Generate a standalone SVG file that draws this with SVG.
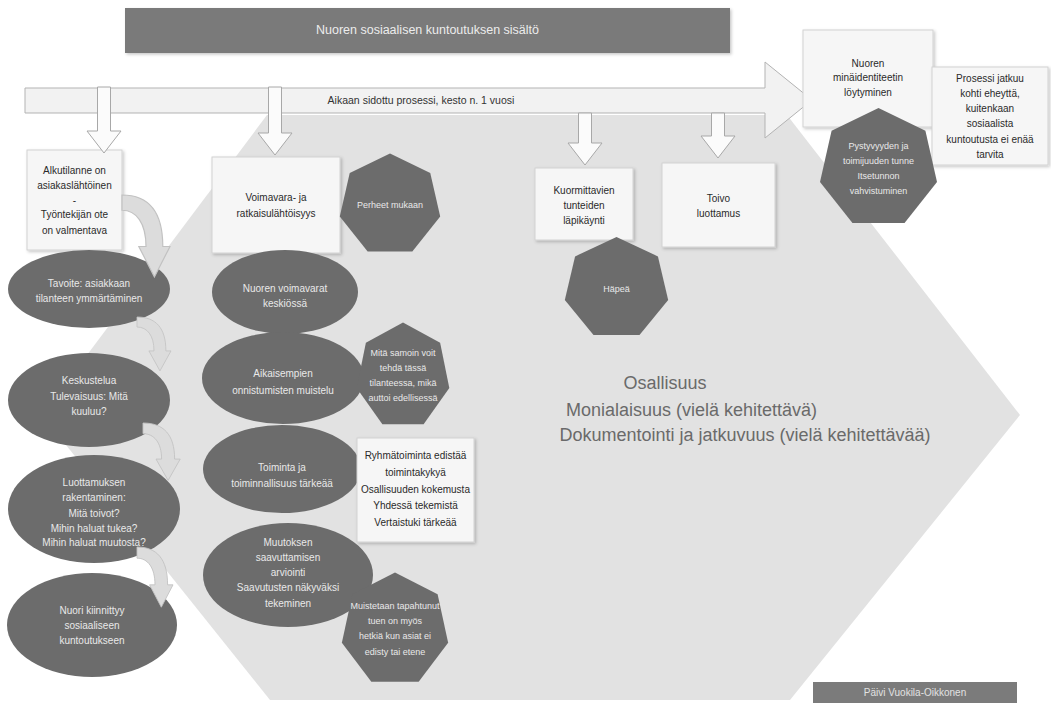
<svg xmlns="http://www.w3.org/2000/svg" xmlns:xlink="http://www.w3.org/1999/xlink" width="1051" height="705" viewBox="0 0 1051 705">
<defs>
<style>
text{font-family:"Liberation Sans","DejaVu Sans",sans-serif;text-anchor:middle}
.box{fill:#f6f6f6;stroke:#d2d2d2;stroke-width:1;filter:url(#sh)}
.bt{font-size:10px;fill:#2a2a2a}
.dark{fill:#6c6c6c}
.wt{font-size:10px;fill:#e9e9e9}
.ht{font-size:9px;fill:#e9e9e9}
.down{fill:#fbfbfb;stroke:#a8a8a8;stroke-width:1}
.curve{fill:#dcdcdc;stroke:#c2c2c2;stroke-width:1}
.mid{font-size:18px;fill:#6a6a6a}
</style>
<filter id="sh" x="-10%" y="-10%" width="130%" height="130%"><feDropShadow dx="1.5" dy="1.5" stdDeviation="1.5" flood-color="#000" flood-opacity="0.22"/></filter>
<polygon id="hept" points="0,-50 39.09,-31.18 48.75,11.13 21.70,45.05 -21.70,45.05 -48.75,11.13 -39.09,-31.18"/>
<path id="carr" d="M0,0 C22,0 34,14 34,44 L40,44 L27,70 L14,44 L20,44 C20,24 12,13 0,13 Z"/>
<path id="darr" d="M-6.5,0 L6.5,0 L6.5,-22 L17,-22 L0,0 Z"/>
</defs>

<rect width="1051" height="705" fill="#ffffff"/>

<g id="background">
<polygon points="267,115 787,115 1020,415 790,700 270,700 42,415" fill="#e2e2e2"/>
</g>

<g id="title">
<rect x="125" y="8" width="605" height="45" fill="#7a7a7a" filter="url(#sh)"/>
<text x="427.5" y="34" font-size="12.5" fill="#ececec">Nuoren sosiaalisen kuntoutuksen sisältö</text>
</g>

<g id="timeline">
<polygon points="25,88 765,88 765,62 812,100 765,138 765,113 25,113" fill="#f2f2f2" stroke="#b3b3b3" stroke-width="1" stroke-linejoin="round"/>
<text x="421" y="104" font-size="10.5" fill="#333">Aikaan sidottu prosessi, kesto n. 1 vuosi</text>
</g>

<g id="n-alkutilanne">
<rect class="box" x="27" y="150" width="95" height="100"/>
<text class="bt" x="74.5" y="174">Alkutilanne on</text>
<text class="bt" x="74.5" y="189">asiakaslähtöinen</text>
<text class="bt" x="74.5" y="204">-</text>
<text class="bt" x="74.5" y="218">Työntekijän ote</text>
<text class="bt" x="74.5" y="234">on valmentava</text>
</g>

<g id="n-tavoite">
<ellipse class="dark" cx="89" cy="289" rx="81" ry="39"/>
<text class="wt" x="89" y="287">Tavoite: asiakkaan</text>
<text class="wt" x="89" y="302">tilanteen ymmärtäminen</text>
</g>

<g id="n-keskustelua">
<ellipse class="dark" cx="89" cy="400" rx="81" ry="47"/>
<text class="wt" x="89" y="384">Keskustelua</text>
<text class="wt" x="89" y="400">Tulevaisuus: Mitä</text>
<text class="wt" x="89" y="415">kuuluu?</text>
</g>

<g id="n-luottamus">
<ellipse class="dark" cx="94" cy="509" rx="86" ry="54"/>
<text class="wt" x="94" y="486">Luottamuksen</text>
<text class="wt" x="94" y="501">rakentaminen:</text>
<text class="wt" x="94" y="517">Mitä toivot?</text>
<text class="wt" x="94" y="532">Mihin haluat tukea?</text>
<text class="wt" x="94" y="546">Mihin haluat muutosta?</text>
</g>

<g id="n-kiinnittyy">
<ellipse class="dark" cx="92" cy="625" rx="85" ry="52"/>
<text class="wt" x="92" y="614">Nuori kiinnittyy</text>
<text class="wt" x="92" y="629">sosiaaliseen</text>
<text class="wt" x="92" y="644">kuntoutukseen</text>
</g>

<g id="n-voimavara">
<rect class="box" x="212" y="157" width="128" height="96"/>
<text class="bt" x="276" y="201">Voimavara- ja</text>
<text class="bt" x="276" y="217">ratkaisulähtöisyys</text>
</g>

<g id="n-perheet">
<use xlink:href="#hept" class="dark" transform="translate(390,205) scale(1.03)"/>
<text class="ht" x="390" y="208">Perheet mukaan</text>
</g>

<g id="n-voimavarat">
<ellipse class="dark" cx="285" cy="292" rx="73" ry="42"/>
<text class="wt" x="285" y="292">Nuoren voimavarat</text>
<text class="wt" x="285" y="307">keskiössä</text>
</g>

<g id="n-onnistumiset">
<ellipse class="dark" cx="283" cy="378" rx="81" ry="46"/>
<text class="wt" x="283" y="377">Aikaisempien</text>
<text class="wt" x="283" y="394">onnistumisten muistelu</text>
</g>

<g id="n-samoin">
<use xlink:href="#hept" class="dark" transform="translate(403,376) scale(0.95,1.07)"/>
<text class="ht" x="403" y="356">Mitä samoin voit</text>
<text class="ht" x="403" y="371">tehdä tässä</text>
<text class="ht" x="403" y="386">tilanteessa, mikä</text>
<text class="ht" x="403" y="401">auttoi edellisessä</text>
</g>

<g id="n-toiminta">
<ellipse class="dark" cx="282" cy="469" rx="79" ry="44"/>
<text class="wt" x="282" y="471">Toiminta ja</text>
<text class="wt" x="282" y="487">toiminnallisuus tärkeää</text>
</g>

<g id="n-muutos">
<ellipse class="dark" cx="288" cy="575" rx="85" ry="52"/>
<text class="wt" x="288" y="546">Muutoksen</text>
<text class="wt" x="288" y="561">saavuttamisen</text>
<text class="wt" x="288" y="576">arviointi</text>
<text class="wt" x="288" y="591">Saavutusten näkyväksi</text>
<text class="wt" x="288" y="607">tekeminen</text>
</g>

<g id="n-ryhma">
<rect class="box" x="357" y="438" width="117" height="104"/>
<text class="bt" x="415.5" y="459">Ryhmätoiminta edistää</text>
<text class="bt" x="415.5" y="476">toimintakykyä</text>
<text class="bt" x="415.5" y="493">Osallisuuden kokemusta</text>
<text class="bt" x="415.5" y="509">Yhdessä tekemistä</text>
<text class="bt" x="415.5" y="526">Vertaistuki tärkeää</text>
</g>

<g id="n-muistetaan">
<use xlink:href="#hept" class="dark" transform="translate(395,630) scale(1.09,1.15)"/>
<text class="ht" x="395" y="609">Muistetaan tapahtunut</text>
<text class="ht" x="395" y="624">tuen on myös</text>
<text class="ht" x="395" y="639">hetkiä kun asiat ei</text>
<text class="ht" x="395" y="655">edisty tai etene</text>
</g>

<g id="n-kuormittavat">
<rect class="box" x="535" y="168" width="98" height="72"/>
<text class="bt" x="584" y="194">Kuormittavien</text>
<text class="bt" x="584" y="209">tunteiden</text>
<text class="bt" x="584" y="224">läpikäynti</text>
</g>

<g id="n-hapea">
<use xlink:href="#hept" class="dark" transform="translate(616.5,288.5) scale(1.06,1.03)"/>
<text class="ht" x="616.5" y="292">Häpeä</text>
</g>

<g id="n-toivo">
<rect class="box" x="662" y="163" width="113" height="84"/>
<text class="bt" x="718.5" y="202">Toivo</text>
<text class="bt" x="718.5" y="217">luottamus</text>
</g>

<g id="n-minaidentiteetti">
<rect class="box" x="803" y="30" width="130" height="97"/>
<text class="bt" x="868" y="67">Nuoren</text>
<text class="bt" x="868" y="81">minäidentiteetin</text>
<text class="bt" x="868" y="96">löytyminen</text>
</g>

<g id="n-prosessi">
<rect class="box" x="932" y="67" width="116" height="98"/>
<text class="bt" x="990" y="82">Prosessi jatkuu</text>
<text class="bt" x="990" y="97">kohti eheyttä,</text>
<text class="bt" x="990" y="112">kuitenkaan</text>
<text class="bt" x="990" y="127">sosiaalista</text>
<text class="bt" x="990" y="143">kuntoutusta ei enää</text>
<text class="bt" x="990" y="158">tarvita</text>
</g>

<g id="n-pystyvyys">
<use xlink:href="#hept" class="dark" transform="translate(878.5,168.5) scale(1.2,1.21)"/>
<text class="ht" x="878.5" y="149">Pystyvyyden ja</text>
<text class="ht" x="878.5" y="164">toimijuuden tunne</text>
<text class="ht" x="878.5" y="179">Itsetunnon</text>
<text class="ht" x="878.5" y="194">vahvistuminen</text>
</g>

<g id="connectors">
<path class="down" d="M97.5,87 L110.5,87 L110.5,131 L121,131 L104,153 L87,131 L97.5,131 Z"/>
<path class="down" d="M268.5,87 L281.5,87 L281.5,133 L292,133 L275,155 L258,133 L268.5,133 Z"/>
<path class="down" d="M578.5,113 L591.5,113 L591.5,143 L602,143 L585,165 L568,143 L578.5,143 Z"/>
<path class="down" d="M711.5,113 L724.5,113 L724.5,136 L735,136 L718,158 L701,136 L711.5,136 Z"/>
<use xlink:href="#carr" class="curve" transform="translate(122,195) scale(1.2,1.17)"/>
<use xlink:href="#carr" class="curve" transform="translate(137,317) scale(0.85,0.77)"/>
<use xlink:href="#carr" class="curve" transform="translate(143,423) scale(0.93,0.82)"/>
<use xlink:href="#carr" class="curve" transform="translate(137,547) scale(0.9,0.86)"/>
</g>

<g id="center-text">
<text class="mid" x="665" y="389">Osallisuus</text>
<text class="mid" x="691.5" y="416">Monialaisuus (vielä kehitettävä)</text>
<text class="mid" x="745" y="441">Dokumentointi ja jatkuvuus (vielä kehitettävää)</text>
</g>

<g id="credit">
<rect x="813" y="682" width="204" height="21" fill="#7b7b7b"/>
<text x="915" y="696" font-size="10" fill="#e2e2e2">Päivi Vuokila-Oikkonen</text>
</g>
</svg>
